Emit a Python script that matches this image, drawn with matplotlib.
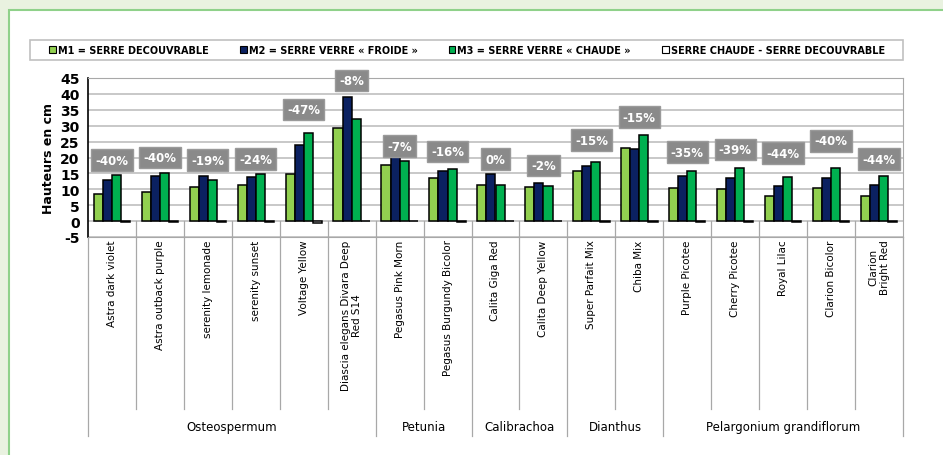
import numpy as np
import matplotlib
matplotlib.use('Agg')
from matplotlib import pyplot as plt
from matplotlib.patches import Rectangle, Patch
from matplotlib.transforms import blended_transform_factory

matplotlib.rcParams['axes.unicode_minus'] = False

varieties = ["Astra dark violet", "Astra outback purple", "serenity lemonade",
             "serenity sunset", "Voltage Yellow", "Diascia elegans Divara Deep\nRed S14",
             "Pegasus Pink Morn", "Pegasus Burgundy Bicolor", "Calita Giga Red",
             "Calita Deep Yellow", "Super Parfait Mix", "Chiba Mix", "Purple Picotee",
             "Cherry Picotee", "Royal Lilac", "Clarion Bicolor", "Clarion\nBright Red"]
groups = ["Osteospermum", "Petunia", "Calibrachoa", "Dianthus", "Pelargonium grandiflorum"]
group_sizes = [6, 2, 2, 2, 5]

m1 = [8.6, 9.1, 10.6, 11.4, 14.7, 29.4, 17.7, 13.7, 11.4, 10.8, 15.8, 23.1, 10.4, 10.1, 7.8, 10.3, 8.0]
m2 = [12.9, 14.2, 14.3, 14.0, 24.0, 38.9, 20.1, 15.6, 14.9, 12.1, 17.4, 22.7, 14.3, 13.7, 11.1, 13.4, 11.5]
m3 = [14.4, 15.0, 12.9, 14.9, 27.8, 32.2, 19.0, 16.3, 11.4, 11.1, 18.6, 27.1, 15.9, 16.6, 13.9, 16.8, 14.3]
diff = [-0.40, -0.40, -0.19, -0.24, -0.47, -0.08, -0.07, -0.16, 0.0, -0.02,
        -0.15, -0.15, -0.35, -0.39, -0.44, -0.40, -0.44]

series_names = ["M1 = SERRE DECOUVRABLE", "M2 = SERRE VERRE « FROIDE »",
                "M3 = SERRE VERRE « CHAUDE »", "SERRE CHAUDE - SERRE DECOUVRABLE"]
colors = ["#92d050", "#0b2161", "#00b050", "#ffffff"]

# how far above the tallest bar each % box sits (moved by hand in the original)
label_off = [4.8, 5.0, 4.9, 4.6, 7.2, 5.4, 3.5, 5.7, 4.6, 5.5, 6.9, 5.6, 5.8, 6.0, 7.5, 8.4, 5.2]

W, H = 943, 456
fig = plt.figure(figsize=(W / 100, H / 100), dpi=100)
fig.patch.set_facecolor("#e9f2e0")
fig.patches.append(Rectangle((9 / W, -0.1), 1.1, (H - 11) / H + 0.1, transform=fig.transFigure,
                             facecolor="white", edgecolor="#8fd18a", lw=1.5, zorder=-2))

ax = fig.add_axes([88 / W, (H - 238) / H, (903 - 88) / W, (238 - 79) / H])
ax.set_facecolor("white")

x = np.arange(len(varieties))
w = 0.19
for i, vals in enumerate([m1, m2, m3, diff]):
    ax.bar(x + (i - 1.5) * w, vals, w, color=colors[i], edgecolor="black", lw=1.1, zorder=3)

ax.set_ylim(-5, 45)
ax.set_xlim(-0.5, len(varieties) - 0.5)
ax.set_yticks(np.arange(-5, 50, 5))
ax.yaxis.grid(True, color="#c4c4c4", lw=1.3, zorder=0)
ax.tick_params(axis="y", length=0, labelsize=10, pad=6)
for t in ax.get_yticklabels():
    t.set_fontweight("bold")
ax.set_xticks([])
ax.spines["left"].set_color("black")
ax.spines["left"].set_linewidth(1.2)
for s in ["top", "right", "bottom"]:
    ax.spines[s].set_color("#a8a8a8")
ax.set_ylabel("Hauteurs en cm", fontsize=9, fontweight="bold", labelpad=4)

# percentage boxes
for i in range(len(varieties)):
    top = max(m1[i], m2[i], m3[i]) + label_off[i]
    ax.text(x[i], top, f"{diff[i] * 100:.0f}%", ha="center", va="center", color="white",
            fontsize=8.5, fontweight="bold", zorder=5,
            bbox=dict(boxstyle="square,pad=0.35", facecolor="#8a8a8a", edgecolor="#9a9a9a"))

# category axis: labels and separators
tr = blended_transform_factory(ax.transData, ax.transAxes)
y0 = 5 / 50
for i, name in enumerate(varieties):
    ax.text(x[i], -0.015, name, rotation=90, ha="center", va="top", fontsize=7.5,
            transform=tr, linespacing=1.15, multialignment="center")
bounds = np.cumsum([0] + group_sizes)
for k in range(1, len(varieties)):
    if k in bounds:
        continue
    ax.plot([k - 0.5, k - 0.5], [y0, -1.082], color="#a8a8a8", lw=0.9, transform=tr, clip_on=False)
for b in bounds:
    ax.plot([b - 0.5, b - 0.5], [y0 if 0 < b < len(varieties) else 0, -1.252],
            color="#a8a8a8", lw=0.9, transform=tr, clip_on=False)
for g, a, b in zip(groups, bounds[:-1], bounds[1:]):
    ax.text((a + b - 1) / 2, -1.19, g, ha="center", va="center", fontsize=8.5, transform=tr)

# legend
fig.patches.append(Rectangle((30 / W, (H - 61) / H), (903 - 30) / W, 20 / H,
                             transform=fig.transFigure, facecolor="white",
                             edgecolor="#c0c0c0", lw=1.2, zorder=-1))
handles = [Patch(facecolor=c, edgecolor="black", lw=0.8) for c in colors]
fig.legend(handles, series_names, loc="center", bbox_to_anchor=(467 / W, 1 - 51 / H),
           ncol=4, frameon=False, handlelength=0.7, handleheight=0.7, handletextpad=0.2,
           columnspacing=3.2, prop=dict(size=7, weight="bold"))

plt.savefig("out.png", dpi=100, facecolor=fig.get_facecolor())
